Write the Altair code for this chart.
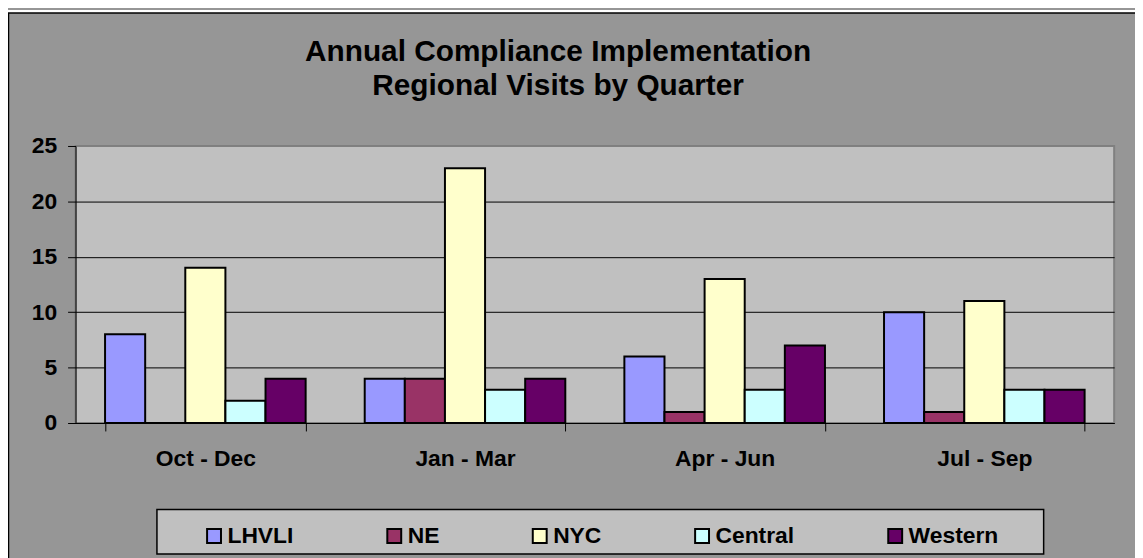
import altair as alt
import pandas as pd

quarters = ["Oct - Dec", "Jan - Mar", "Apr - Jun", "Jul - Sep"]
regions = ["LHVLI", "NE", "NYC", "Central", "Western"]
lhvli = [8, 4, 6, 10]
ne = [0, 4, 1, 1]
nyc = [14, 23, 13, 11]
central = [2, 3, 3, 3]
western = [4, 4, 7, 3]
colors = ["#9999FF", "#993366", "#FFFFCC", "#CCFFFF", "#660066"]
y_ticks = [0, 5, 10, 15, 20, 25]
title_lines = ["Annual Compliance Implementation", "Regional Visits by Quarter"]

rows = []
for i, q in enumerate(quarters):
    for r, vals in zip(regions, [lhvli, ne, nyc, central, western]):
        rows.append({"quarter": q, "region": r, "visits": vals[i]})
df = pd.DataFrame(rows)

W, H = 1046, 279
FONT = "Liberation Sans"
LFS = 23

bars = alt.Chart(df).mark_bar(stroke="black", strokeWidth=2).encode(
    x=alt.X(
        "quarter:N", sort=quarters, title=None,
        scale=alt.Scale(paddingInner=0.2275, paddingOuter=0.11375),
        axis=alt.Axis(
            labelAngle=0, labelFont=FONT, labelFontWeight="bold", labelFontSize=LFS,
            labelColor="black", domainColor="black", domainWidth=1,
            tickColor="black", tickSize=8, tickWidth=1, tickBand="extent",
            labelPadding=35, labelBaseline="alphabetic",
        ),
    ),
    xOffset=alt.XOffset("region:N", sort=regions),
    y=alt.Y(
        "visits:Q", title=None,
        scale=alt.Scale(domain=[0, 25], nice=False),
        axis=alt.Axis(
            values=y_ticks, labelFont=FONT, labelFontWeight="bold", labelFontSize=LFS,
            labelColor="black", labelPadding=11, tickSize=8, tickColor="black", tickWidth=1,
            domainColor="black", domainWidth=1, grid=True,
            gridColor={"condition": {"test": "datum.value === 25", "value": "#808080"}, "value": "black"},
            gridWidth=1,
        ),
    ),
    color=alt.Color(
        "region:N", sort=regions,
        scale=alt.Scale(domain=regions, range=colors),
        legend=alt.Legend(
            orient="none", legendX=128, legendY=381, direction="horizontal", title=None,
            columnPadding=89.5, labelFont=FONT, labelFontSize=LFS, labelFontWeight="bold",
            labelColor="black", symbolType="square", symbolSize=196,
            symbolStrokeColor="black", symbolStrokeWidth=2, symbolOpacity=1,
            labelOffset=2, padding=0, labelLimit=400,
        ),
    ),
)

one = pd.DataFrame({"k": [0]})
white_strip = alt.Chart(one).mark_rect(fill="white", strokeWidth=0).encode(
    x=alt.value(-68), x2=alt.value(1200), y=alt.value(-137), y2=alt.value(-134)
)
outer = alt.Chart(one).mark_rect(fill="transparent", stroke="black", strokeWidth=1.5).encode(
    x=alt.value(-67.5), x2=alt.value(1200), y=alt.value(-134), y2=alt.value(700)
)
legend_box = alt.Chart(one).mark_rect(fill="#C0C0C0", stroke="black", strokeWidth=1.5).encode(
    x=alt.value(82), x2=alt.value(975), y=alt.value(366), y2=alt.value(411)
)

chart = alt.layer(white_strip, outer, legend_box, bars).properties(
    width=W, height=H,
    background="#969696",
    autosize=alt.AutoSizeParams(type="none"),
    padding={"left": 68, "top": 137, "right": 21, "bottom": 134},
    title=alt.TitleParams(
        text=title_lines, font=FONT, fontSize=30, fontWeight="bold", color="black",
        lineHeight=35, anchor="middle", dx=-37, offset=-92,
    ),
).configure_view(fill="#C0C0C0", stroke="#808080", strokeWidth=2)

chart.save("out.html", embed_options={"renderer": "svg", "actions": False})
